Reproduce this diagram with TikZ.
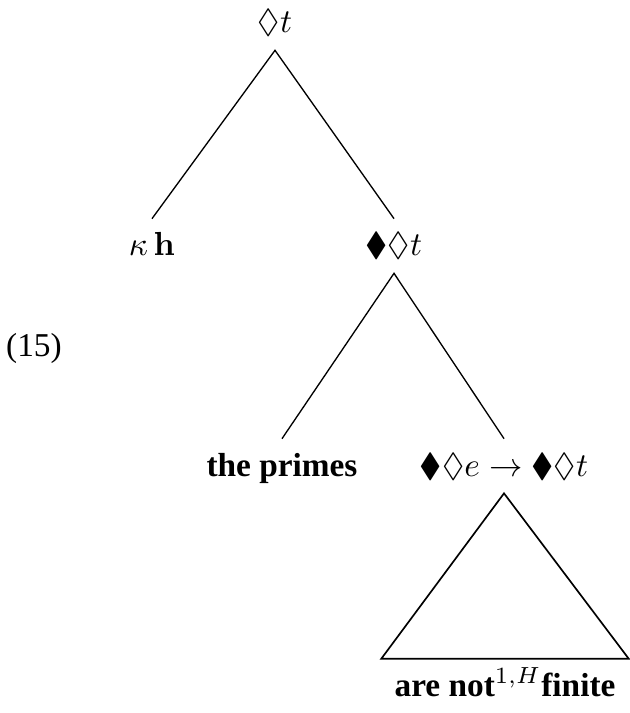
\documentclass[tikz,border=0pt]{standalone}
\usepackage{amssymb}
\usepackage[no-math]{fontspec}
\setmainfont{Liberation Serif}
\begin{document}
\begin{tikzpicture}[x=0.3pt,y=-0.3pt,
  lbl/.style={anchor=base, text height=0.8em, text depth=0.2em, inner xsep=0pt, inner ysep=0.3em},
  branch/.style={line width=0.4pt},
  roof/.style={line width=0.5pt}]
\useasboundingbox (0,0) rectangle (629,713);
\node[lbl] (root) at (275,33) {$\lozenge t$};
\node[lbl] (kh) at (152,256) {$\kappa\,\mathbf{h}$};
\node[lbl] (n1) at (394,256) {$\blacklozenge\lozenge t$};
\node[lbl] (primes) at (282,476) {\textbf{the primes}};
\node[lbl] (fn) at (504,476) {$\blacklozenge\lozenge e\rightarrow\blacklozenge\lozenge t$};
\node[lbl, minimum width=73.8pt] (leaf) at (505,696) {\textbf{are not}$^{1,H}$\textbf{finite}};
\node[anchor=base, inner sep=0pt] (ex) at (34,357) {(15)};
\draw[branch] (kh.north) -- (root.south) -- (n1.north);
\draw[branch] (primes.north) -- (n1.south) -- (fn.north);
\draw[roof] (fn.south) -- (leaf.north east) -- (leaf.north west) -- cycle;
\end{tikzpicture}
\end{document}
